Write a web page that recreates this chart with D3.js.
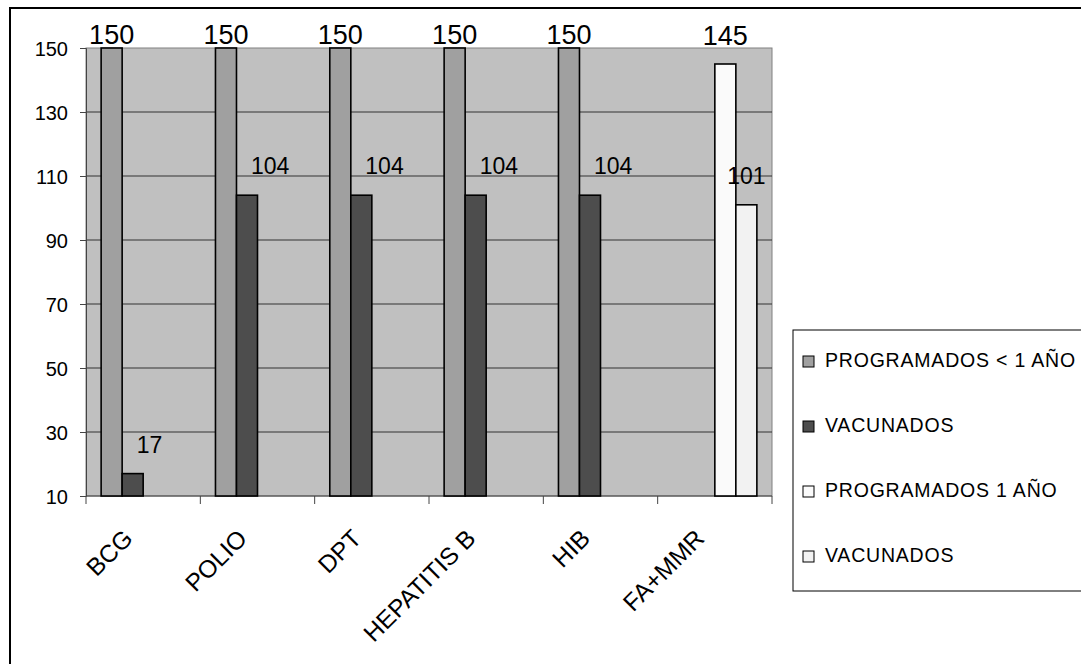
<!DOCTYPE html>
<html>
<head>
<meta charset="utf-8">
<script src="https://cdn.jsdelivr.net/npm/d3@7"></script>
<style>
  body { margin: 0; background: #fff; }
  svg text { font-family: "Liberation Sans", Arial, sans-serif; fill: #000; }
</style>
</head>
<body>
<div id="chart"></div>
<script>
// chart data
const categories = ["BCG", "POLIO", "DPT", "HEPATITIS B", "HIB", "FA+MMR"];
const seriesNames = ["PROGRAMADOS < 1 AÑO", "VACUNADOS", "PROGRAMADOS 1 AÑO", "VACUNADOS"];
const programadosMenor1 = [150, 150, 150, 150, 150, null];
const vacunadosMenor1 = [17, 104, 104, 104, 104, null];
const programados1 = [null, null, null, null, null, 145];
const vacunados1 = [null, null, null, null, null, 101];
const yTicks = [10, 30, 50, 70, 90, 110, 130, 150];

const seriesValues = [programadosMenor1, vacunadosMenor1, programados1, vacunados1];
const seriesColors = ["#a0a0a0", "#4d4d4d", "#fafafa", "#f2f2f2"];
const labelSizes = [27, 23, 27, 23];

const width = 1081, height = 664;
const plot = { left: 86, top: 48, right: 772, bottom: 496 };

const svg = d3.select("#chart").append("svg")
    .attr("width", width)
    .attr("height", height);

// outer chart border
svg.append("rect")
    .attr("x", 10).attr("y", 8)
    .attr("width", width + 10).attr("height", height + 10)
    .attr("fill", "#fff")
    .attr("stroke", "#000")
    .attr("stroke-width", 2);

const x = d3.scaleBand()
    .domain(categories)
    .range([plot.left, plot.right]);

const xSub = d3.scaleBand()
    .domain(d3.range(seriesNames.length))
    .range([0, x.bandwidth()])
    .paddingOuter(0.72);

const y = d3.scaleLinear()
    .domain([10, 150])
    .range([plot.bottom, plot.top]);

// plot background
svg.append("rect")
    .attr("x", plot.left).attr("y", plot.top)
    .attr("width", plot.right - plot.left)
    .attr("height", plot.bottom - plot.top)
    .attr("fill", "#c0c0c0")
    .attr("stroke", "#808080")
    .attr("stroke-width", 1);

// gridlines
svg.append("g")
    .selectAll("line")
    .data(yTicks.filter(t => t > 10 && t < 150))
    .join("line")
    .attr("x1", plot.left).attr("x2", plot.right)
    .attr("y1", d => y(d)).attr("y2", d => y(d))
    .attr("stroke", "#333")
    .attr("stroke-width", 1);

// y axis
const yAxis = svg.append("g")
    .attr("transform", `translate(${plot.left},0)`)
    .call(d3.axisLeft(y).tickValues(yTicks).tickSize(6).tickPadding(12));
yAxis.select(".domain").attr("stroke", "#444");
yAxis.selectAll(".tick line").attr("stroke", "#444");
yAxis.selectAll("text")
    .style("font-size", "20px")
    .attr("dy", "0.36em");

// x axis with ticks between categories
const xAxis = svg.append("g")
    .attr("transform", `translate(0,${plot.bottom})`);
xAxis.append("line")
    .attr("x1", plot.left).attr("x2", plot.right)
    .attr("stroke", "#444");
xAxis.selectAll("line.tick")
    .data(d3.range(categories.length + 1))
    .join("line")
    .attr("class", "tick")
    .attr("x1", i => plot.left + i * x.step())
    .attr("x2", i => plot.left + i * x.step())
    .attr("y1", 0).attr("y2", 8)
    .attr("stroke", "#444");
xAxis.selectAll("text")
    .data(categories)
    .join("text")
    .attr("text-anchor", "end")
    .attr("transform", d => `translate(${x(d) + x.bandwidth() / 2 - 9},44) rotate(-45)`)
    .style("font-size", "24.5px")
    .text(d => d);

// bars
const bars = [];
categories.forEach((c, ci) => {
    seriesValues.forEach((vals, si) => {
        if (vals[ci] != null) bars.push({ cat: c, s: si, v: vals[ci] });
    });
});

svg.append("g")
    .selectAll("rect")
    .data(bars)
    .join("rect")
    .attr("x", d => x(d.cat) + xSub(d.s))
    .attr("y", d => y(d.v))
    .attr("width", xSub.bandwidth())
    .attr("height", d => y(10) - y(d.v))
    .attr("fill", d => seriesColors[d.s])
    .attr("stroke", "#000")
    .attr("stroke-width", 1.6);

// value labels (the second series starts just right of its bar centre, as in the original)
svg.append("g")
    .selectAll("text")
    .data(bars)
    .join("text")
    .attr("x", d => x(d.cat) + xSub(d.s) + xSub.bandwidth() / 2 + (d.s === 1 ? 4 : 0))
    .attr("y", d => Math.max(y(d.v) - (d.s % 2 ? 21 : 19), 44))
    .attr("text-anchor", d => d.s === 1 ? "start" : "middle")
    .style("font-size", d => labelSizes[d.s] + "px")
    .text(d => d.v);

// legend
const legend = svg.append("g");
legend.append("rect")
    .attr("x", 793).attr("y", 330)
    .attr("width", 300).attr("height", 261)
    .attr("fill", "#fff")
    .attr("stroke", "#000")
    .attr("stroke-width", 1);

const item = legend.selectAll("g.item")
    .data(seriesNames)
    .join("g")
    .attr("class", "item")
    .attr("transform", (d, i) => `translate(803,${356 + i * 65})`);
item.append("rect")
    .attr("width", 11).attr("height", 11)
    .attr("fill", (d, i) => seriesColors[i])
    .attr("stroke", "#000")
    .attr("stroke-width", 1);
item.append("text")
    .attr("x", 22).attr("y", 11)
    .style("font-size", "19.5px")
    .style("letter-spacing", "0.8px")
    .text(d => d);
</script>
</body>
</html>
